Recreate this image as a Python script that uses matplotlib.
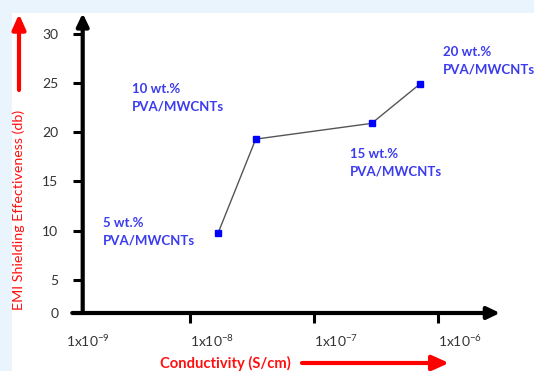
import matplotlib
matplotlib.use("Agg")
import matplotlib.pyplot as plt
import matplotlib.transforms as mtransforms
from matplotlib.patches import Rectangle

plt.rcParams["font.family"] = ["Lato", "DejaVu Sans"]
plt.rcParams["mathtext.fontset"] = "custom"
plt.rcParams["mathtext.rm"] = "Lato"

# data
conductivity = [1.69e-8, 3.39e-8, 2.92e-7, 7.16e-7]   # S/cm
shielding = [9.8, 19.3, 20.9, 24.9]                  # db
labels = ["5 wt.%\nPVA/MWCNTs", "10 wt.%\nPVA/MWCNTs",
          "15 wt.%\nPVA/MWCNTs", "20 wt.%\nPVA/MWCNTs"]
label_x = [2.0e-9, 3.39e-9, 1.95e-7, 1.09e-6]
label_y = [9.9, 23.5, 16.9, 27.3]

x_decades = [1e-9, 1e-8, 1e-7, 1e-6]
x_decade_labels = ["1x10$^{\\mathregular{-9}}$", "1x10$^{\\mathregular{-8}}$",
                   "1x10$^{\\mathregular{-7}}$", "1x10$^{\\mathregular{-6}}$"]
y_ticks = [5, 10, 15, 20, 25, 30]
y_bottom = 1.65

W, H = 534, 371
fig = plt.figure(figsize=(W / 100, H / 100), dpi=100)
fig.patch.set_facecolor("#EAF4FC")
fig.patches.append(Rectangle((12 / W, 0), 1, (H - 12.7) / H, transform=fig.transFigure,
                             facecolor="white", edgecolor="none", zorder=-1))

ax = fig.add_axes([82.7 / W, 58 / H, (500 - 82.7) / W, (313 - 13.3) / H])
ax.set_facecolor("none")
ax.set_xscale("log")
ax.set_xlim(10 ** -8.865, 10 ** -5.5)
ax.set_ylim(y_bottom, 32.07)
for s in ax.spines.values():
    s.set_visible(False)

# axes drawn as arrows
ax.annotate("", xy=(1, 0), xytext=(-0.025, 0), xycoords="axes fraction",
            arrowprops=dict(arrowstyle="-|>,head_length=0.75,head_width=0.36",
                            mutation_scale=10, lw=3, color="black",
                            shrinkA=0, shrinkB=0))
ax.annotate("", xy=(0, 1), xytext=(0, 0), xycoords="axes fraction",
            arrowprops=dict(arrowstyle="-|>,head_length=0.75,head_width=0.36",
                            mutation_scale=10, lw=3, color="black",
                            shrinkA=0, shrinkB=0))

ax.plot(conductivity, shielding, color="#555555", lw=1.0, zorder=3)
ax.plot(conductivity, shielding, "s", color="#0000FF", markersize=4.8, zorder=4)

for t, x, y in zip(labels, label_x, label_y):
    ax.text(x, y, t, color="#3B3BF0", fontweight="bold", fontsize=9.5,
            ha="left", va="center", linespacing=1.55)

# ticks
ax.set_yticks([y_bottom] + y_ticks)
ax.set_yticklabels(["0"] + [str(v) for v in y_ticks])
ax.tick_params(axis="y", direction="out", length=7.5, width=2.2, pad=10,
               labelsize=10, labelcolor="#333333")
ax.set_xticks(x_decades[1:])
ax.set_xticklabels([])
ax.xaxis.set_minor_locator(matplotlib.ticker.NullLocator())
ax.tick_params(axis="x", direction="out", length=7.5, width=2.2)

tr = mtransforms.blended_transform_factory(ax.transData, fig.transFigure)
for x, t in zip(x_decades, x_decade_labels):
    ax.text(x, 24 / H, t, transform=tr, ha="left", va="baseline",
            fontsize=10, color="#333333", clip_on=False)

# axis titles with red arrows
fig.text(19 / W, 1 - 210 / H, "EMI Shielding Effectiveness (db)", rotation=90,
         ha="center", va="center", color="#FF1010", fontsize=10.3)
fig.add_artist(matplotlib.patches.FancyArrowPatch(
    (19 / W, 1 - 90 / H), (19 / W, 1 - 14 / H), transform=fig.transFigure,
    arrowstyle="-|>,head_length=0.9,head_width=0.4", mutation_scale=10,
    lw=3, color="#FF0000", shrinkA=0, shrinkB=0))

fig.text(225 / W, 8 / H, "Conductivity (S/cm)", ha="center", va="center",
         color="#FF1010", fontsize=10.6, fontweight="bold")
fig.add_artist(matplotlib.patches.FancyArrowPatch(
    (302 / W, 8 / H), (449 / W, 8 / H), transform=fig.transFigure,
    arrowstyle="-|>,head_length=1.0,head_width=0.45", mutation_scale=10,
    lw=3, color="#FF0000", shrinkA=0, shrinkB=0))

fig.savefig("out.png", dpi=100)
